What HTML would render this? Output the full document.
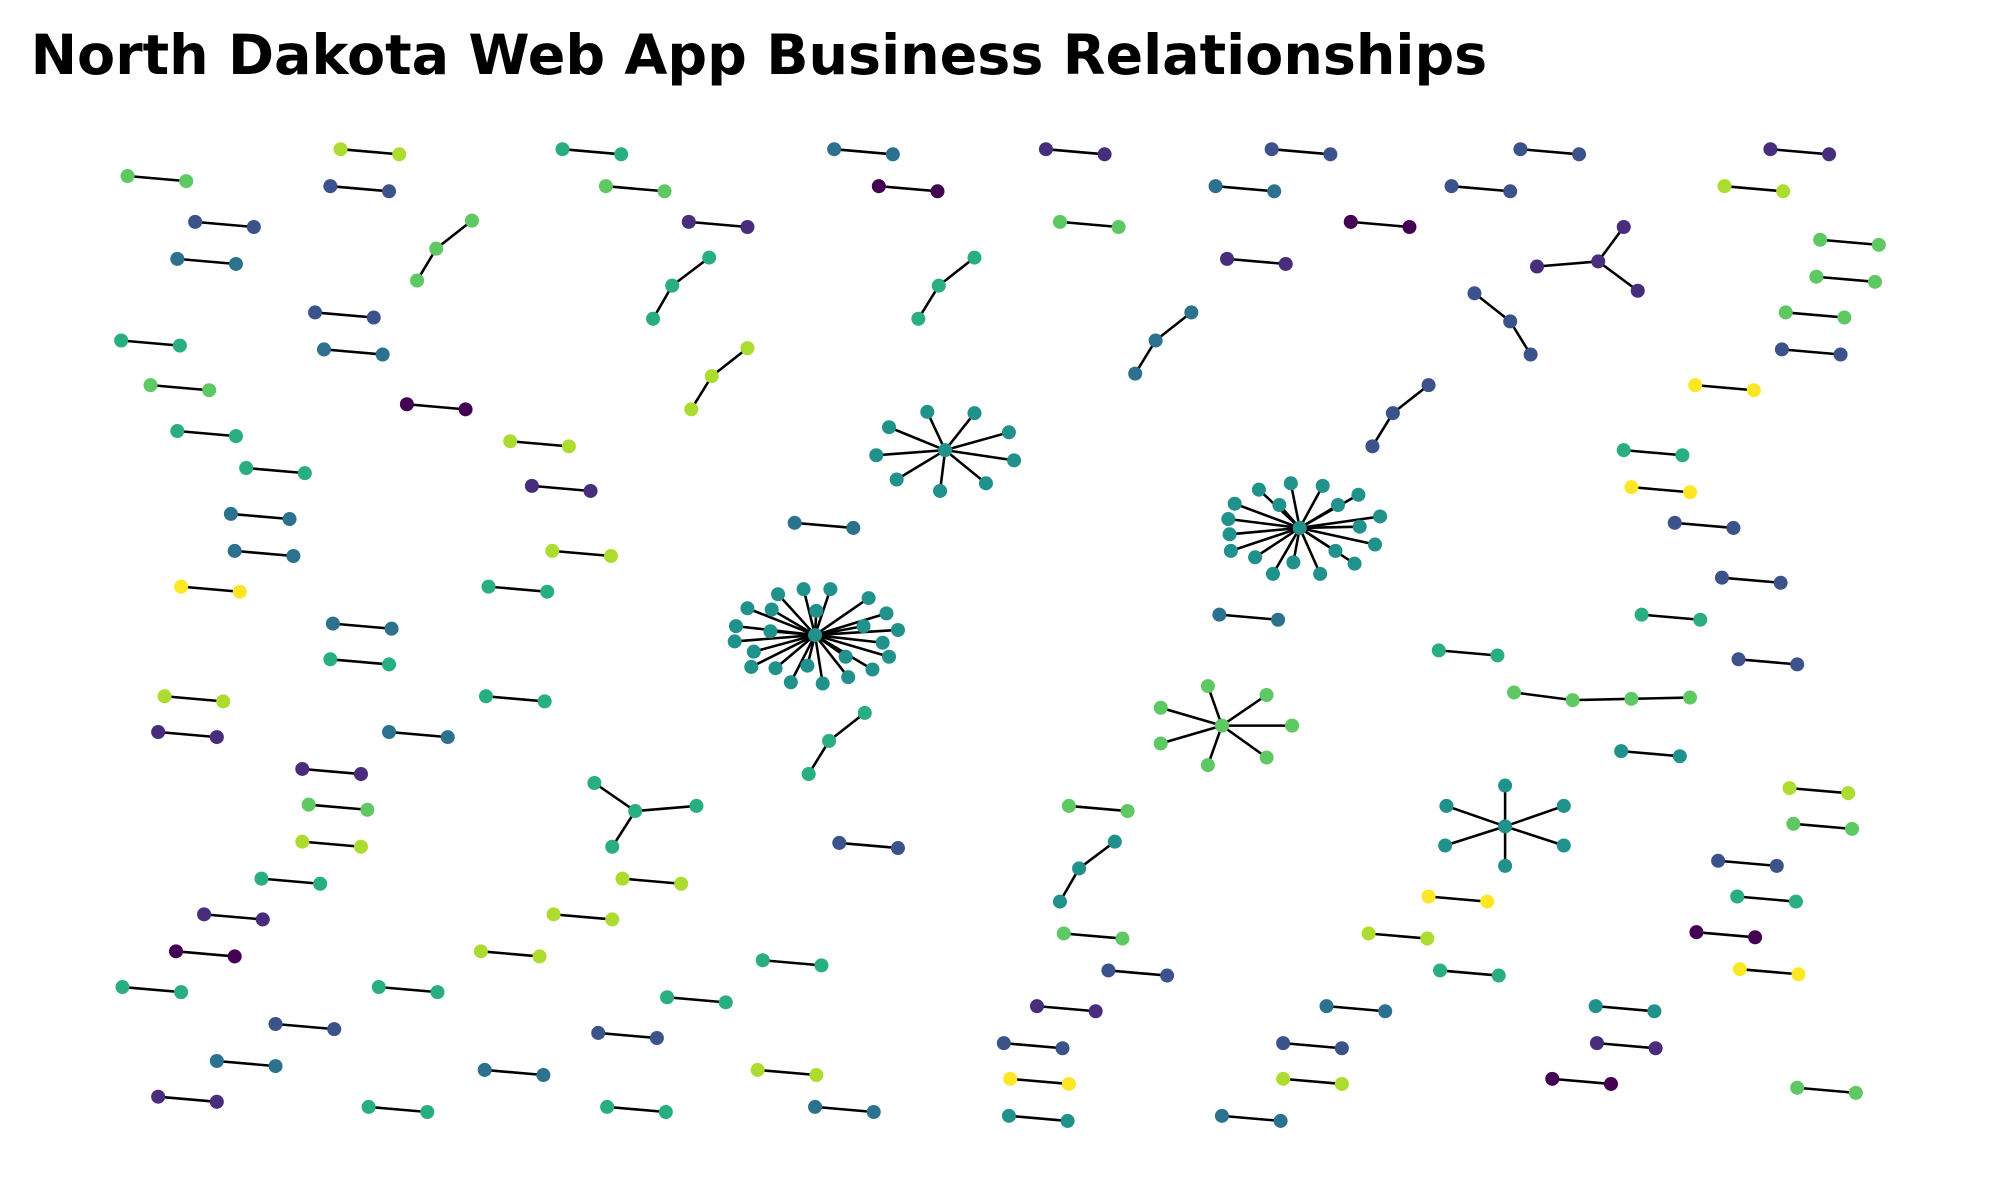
<!DOCTYPE html>
<html><head><meta charset="utf-8"><style>html,body{margin:0;padding:0;background:#fff;}svg{display:block;}</style></head>
<body>
<svg id="s" width="2000" height="1200" viewBox="0 0 1568 941" preserveAspectRatio="none" xmlns="http://www.w3.org/2000/svg">
<rect width="1568" height="941" fill="#fff"/>
<text x="24" y="58" font-family="DejaVu Sans, Liberation Sans, sans-serif" font-weight="bold" font-size="43" textLength="1142" lengthAdjust="spacingAndGlyphs">North Dakota Web App Business Relationships</text>
<g id="E" stroke="#000" stroke-width="2" fill="none"></g>
<g id="N"></g>
</svg>
<script>
var C={a:'#440154',b:'#472d7b',c:'#3b528b',d:'#2c728e',e:'#21918c',f:'#28ae80',g:'#5ec962',h:'#addc30',i:'#fde725'};
var E=document.getElementById('E'),N=document.getElementById('N'),ns='http://www.w3.org/2000/svg';
function line(x1,y1,x2,y2){var l=document.createElementNS(ns,'line');l.setAttribute('x1',x1);l.setAttribute('y1',y1);l.setAttribute('x2',x2);l.setAttribute('y2',y2);E.appendChild(l);}
function dot(x,y,c){var n=document.createElementNS(ns,'circle');n.setAttribute('cx',x);n.setAttribute('cy',y);n.setAttribute('r',5.5);n.setAttribute('fill',C[c]);N.appendChild(n);}
var P=[[100,138,'g'],[153,174,'c'],[139,203,'d'],[95,267,'f'],[118,302,'g'],[139,338,'f'],[193,367,'f'],[181,403,'d'],[184,432,'d'],[142,460,'i'],[129,546,'h'],[124,574,'b'],[237,603,'b'],[242,631,'g'],[237,660,'h'],[205,689,'f'],[160,717,'b'],[138,746,'a'],[96,774,'f'],[216,803,'c'],[170,832,'d'],[124,860,'b'],
[267,117,'h'],[259,146,'c'],[247,245,'c'],[254,274,'d'],[319,317,'a'],[400,346,'h'],[417,381,'b'],[433,432,'h'],[383,460,'f'],[261,489,'d'],[259,517,'f'],[381,546,'f'],[305,574,'d'],[488,689,'h'],[434,717,'h'],[377,746,'h'],[297,774,'f'],[469,810,'c'],[380,839,'d'],[289,868,'f'],[476,868,'f'],
[441,117,'f'],[475,146,'g'],[540,174,'b'],[623,410,'d'],[523,782,'f'],[598,753,'f'],[594,839,'h'],[639,868,'d'],[658,661,'c'],[654,117,'d'],[689,146,'a'],[820,117,'b'],[831,174,'g'],[838,632,'g'],[834,732,'g'],[869,761,'c'],[813,789,'b'],[787,818,'c'],[792,846,'i'],[791,875,'e'],[997,117,'c'],[953,146,'d'],[962,203,'b'],[1059,174,'a'],[956,482,'d'],[1040,789,'d'],[1006,818,'c'],[1006,846,'h'],[958,875,'d'],[1192,117,'c'],[1138,146,'c'],[1128,510,'f'],[1120,703,'i'],[1073,732,'h'],[1129,761,'f'],[1251,789,'e'],[1252,818,'b'],[1217,846,'a'],[1388,117,'b'],[1352,146,'h'],[1427,188,'g'],[1424,217,'g'],[1400,245,'g'],[1397,274,'c'],[1329,302,'i'],[1273,353,'f'],[1279,382,'i'],[1313,410,'c'],[1350,453,'c'],[1287,482,'f'],[1363,517,'c'],[1271,589,'e'],[1403,618,'h'],[1406,646,'g'],[1347,675,'c'],[1362,703,'f'],[1330,731,'a'],[1364,760,'i'],[1409,853,'g']];
P.forEach(function(p){line(p[0],p[1],p[0]+46,p[1]+4);dot(p[0],p[1],p[2]);dot(p[0]+46,p[1]+4,p[2]);});
var CH=[[[327,220],[342,195],[370,173],'g'],[[512,250],[527,224],[556,202],'f'],[[720,250],[736,224],[764,202],'f'],[[542,321],[558,295],[586,273],'h'],[[890,293],[906,267],[934,245],'d'],[[1076,350],[1092,324],[1120,302],'c'],[[634,607],[650,581],[678,559],'f'],[[831,707],[846,681],[874,660],'e'],[[1156,230],[1184,252],[1200,278],'c'],[[1187,543],[1233,549],[1279,548],[1325,547],'g']];
CH.forEach(function(ch){var c=ch[ch.length-1],pts=ch.slice(0,-1);for(var k=0;k<pts.length-1;k++)line(pts[k][0],pts[k][1],pts[k+1][0],pts[k+1][1]);pts.forEach(function(q){dot(q[0],q[1],c);});});
var ST=[[1253,205,'b',[[1205,209],[1273,178],[1284,228]]],[498,636,'f',[[466,614],[480,664],[546,632]]],
[958,569,'g',[[910,555],[910,583],[947,538],[947,600],[993,545],[993,594],[1013,569]]],
[1180,648,'e',[[1134,632],[1133,663],[1180,616],[1180,679],[1226,632],[1226,663]]],
[741,353,'e',[[697,335],[687,357],[703,376],[727,323],[737,385],[764,324],[791,339],[795,361],[773,379]]],
[1019,414,'e',[[963,407],[964,419],[965,432],[968,395],[984,437],[987,384],[998,450],[1003,396],[1012,379],[1014,441],[1035,450],[1037,381],[1047,432],[1049,396],[1065,388],[1066,413],[1062,442],[1078,427],[1082,405]]],
[639,498,'e',[[576,503],[577,491],[586,477],[589,523],[591,511],[604,495],[605,478],[608,524],[610,466],[620,535],[630,462],[633,522],[640,479],[645,536],[651,462],[663,515],[665,531],[677,491],[681,469],[684,525],[692,504],[695,481],[697,515],[704,494]]]];
ST.forEach(function(s){s[3].forEach(function(q){line(s[0],s[1],q[0],q[1]);});s[3].forEach(function(q){dot(q[0],q[1],s[2]);});dot(s[0],s[1],s[2]);});
</script>
</body></html>
